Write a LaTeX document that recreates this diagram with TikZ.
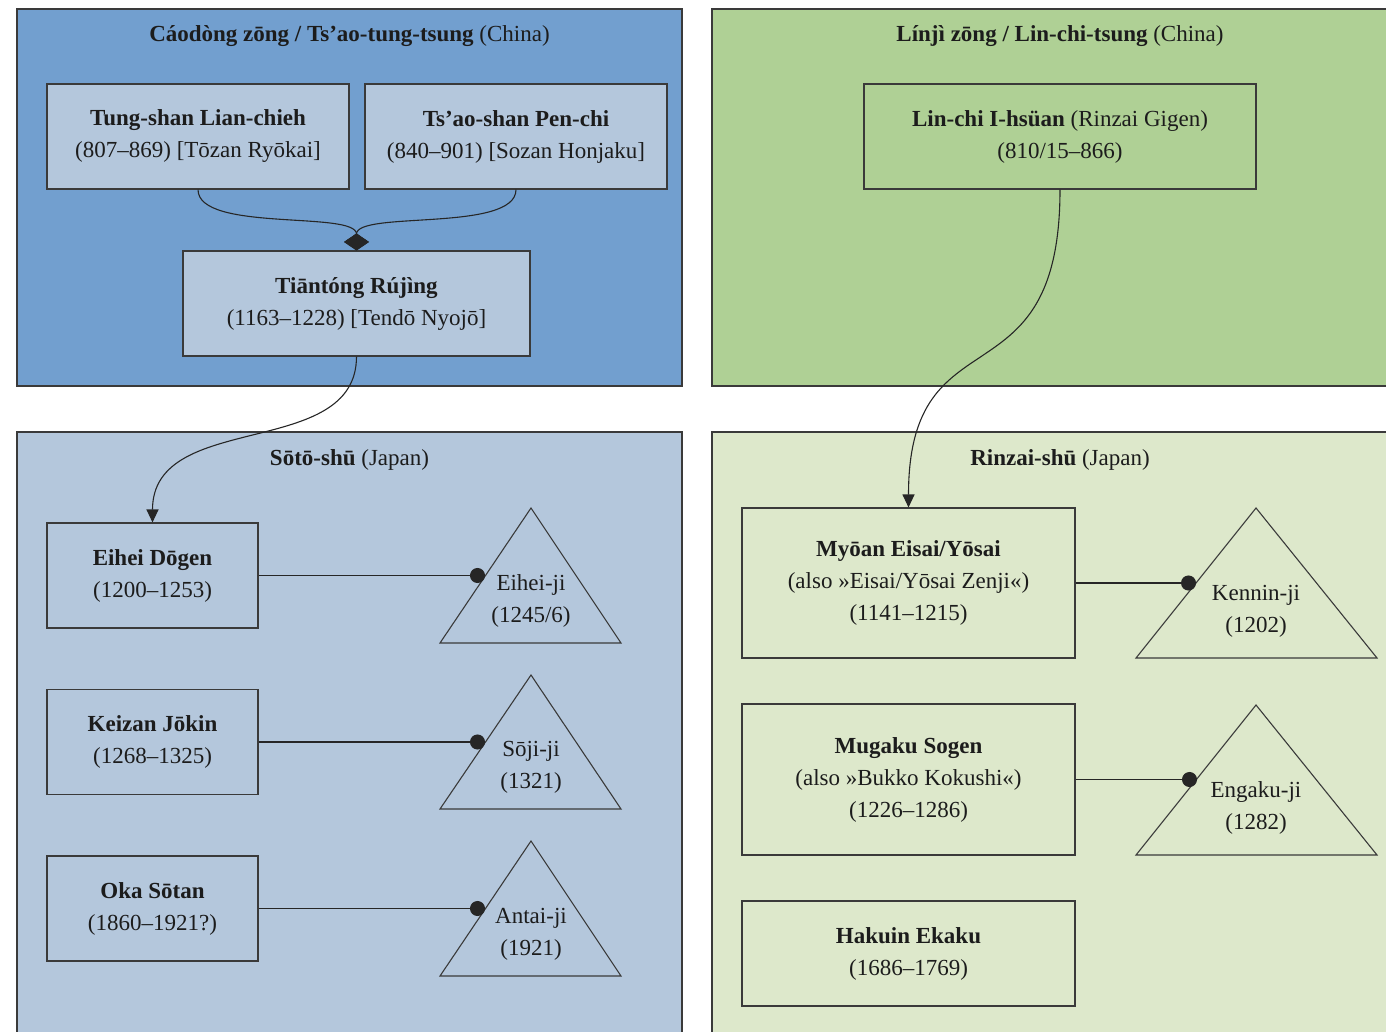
\documentclass[tikz,border=0pt]{standalone}
\usepackage{fontspec}
\setmainfont{Liberation Serif}
\usetikzlibrary{arrows.meta}
\definecolor{blueA}{HTML}{729FCF}
\definecolor{blueB}{HTML}{B4C7DC}
\definecolor{greenA}{HTML}{AFD095}
\definecolor{greenB}{HTML}{DDE8CB}
\definecolor{edgec}{HTML}{3A3A3A}
\definecolor{txt}{HTML}{1C1C1C}
\begin{document}
\begin{tikzpicture}[x=1pt,y=-1pt,
  panel/.style={draw=edgec,line width=1.1pt},
  person/.style={draw=edgec,line width=1.1pt,inner sep=0pt,align=center,text=txt,
    font=\fontsize{23}{32}\selectfont},
  ttl/.style={inner sep=0pt,text=txt,font=\fontsize{23}{32}\selectfont},
  temple/.style={draw=edgec,line width=1.1pt},
  ttext/.style={inner sep=0pt,align=center,text=txt,font=\fontsize{23}{32}\selectfont},
  conn/.style={draw=black!85,line width=1.1pt},
  dotline/.style={conn,-{Circle[length=15pt]}},
]
\useasboundingbox (0,0) rectangle (1386,1032);
% panels
\fill[white] (0,0) rectangle (1386,1032);
\draw[panel,fill=blueA] (17,9) rectangle (682,386);
\draw[panel,fill=greenA] (712,9) rectangle (1420,386);
\draw[panel,fill=blueB] (17,432) rectangle (682,1060);
\draw[panel,fill=greenB] (712,432) rectangle (1420,1060);
% titles
\node[ttl] (t1) at (349.5,36) {\textbf{Cáodòng zōng / Ts’ao-tung-tsung} (China)};
\node[ttl] (t2) at (1060,36) {\textbf{Línjì zōng / Lin-chi-tsung} (China)};
\node[ttl] (t3) at (349.5,460) {\textbf{Sōtō-shū} (Japan)};
\node[ttl] (t4) at (1060,460) {\textbf{Rinzai-shū} (Japan)};
% persons
\node[person,fill=blueB,minimum width=302pt,minimum height=105pt] (tung) at (198,136.5)
  {\textbf{Tung-shan Lian-chieh}\\(807–869) [Tōzan Ryōkai]};
\node[person,fill=blueB,minimum width=302pt,minimum height=105pt] (tsao) at (516,136.5)
  {\textbf{Ts’ao-shan Pen-chi}\\(840–901) [Sozan Honjaku]};
\node[person,fill=blueB,minimum width=347pt,minimum height=105pt] (tian) at (356.5,303.5)
  {\textbf{Tiāntóng Rújìng}\\(1163–1228) [Tendō Nyojō]};
\node[person,fill=greenA,minimum width=392pt,minimum height=105pt] (linchi) at (1060,136.5)
  {\textbf{Lin-chi I-hsüan} (Rinzai Gigen)\\(810/15–866)};
\node[person,fill=blueB,minimum width=211pt,minimum height=105pt] (dogen) at (152.5,575.5)
  {\textbf{Eihei Dōgen}\\(1200–1253)};
\node[person,fill=blueB,minimum width=211pt,minimum height=105pt] (keizan) at (152.5,742)
  {\textbf{Keizan Jōkin}\\(1268–1325)};
\node[person,fill=blueB,minimum width=211pt,minimum height=105pt] (oka) at (152.5,908.5)
  {\textbf{Oka Sōtan}\\(1860–1921?)};
\node[person,fill=greenB,minimum width=333pt,minimum height=150pt] (myoan) at (908.5,583)
  {\textbf{Myōan Eisai/Yōsai}\\(also »Eisai/Yōsai Zenji«)\\(1141–1215)};
\node[person,fill=greenB,minimum width=333pt,minimum height=151pt] (mugaku) at (908.5,779.5)
  {\textbf{Mugaku Sogen}\\(also »Bukko Kokushi«)\\(1226–1286)};
\node[person,fill=greenB,minimum width=333pt,minimum height=105pt] (hakuin) at (908.5,953.5)
  {\textbf{Hakuin Ekaku}\\(1686–1769)};
% temples
\draw[temple,fill=blueB] (531,508) -- (621,643) -- (440,643) -- cycle;
\node[ttext] (eiheiji) at (531,601) {Eihei-ji\\(1245/6)};
\coordinate (d1) at (485,575.5);
\draw[temple,fill=blueB] (531,675) -- (621,809) -- (440,809) -- cycle;
\node[ttext] (sojiji) at (531,767) {Sōji-ji\\(1321)};
\coordinate (d2) at (485,742);
\draw[temple,fill=blueB] (531,841) -- (621,976) -- (440,976) -- cycle;
\node[ttext] (antaiji) at (531,934) {Antai-ji\\(1921)};
\coordinate (d3) at (485,908.5);
\draw[temple,fill=greenB] (1256,508) -- (1377,658) -- (1136,658) -- cycle;
\node[ttext] (kenninji) at (1256,611.5) {Kennin-ji\\(1202)};
\coordinate (d4) at (1196,583);
\draw[temple,fill=greenB] (1256,705) -- (1377,855) -- (1136,855) -- cycle;
\node[ttext] (engakuji) at (1256,808) {Engaku-ji\\(1282)};
\coordinate (d5) at (1197,779.5);
% connectors
\draw[dotline] (dogen.east) -- (d1);
\draw[dotline] (keizan.east) -- (d2);
\draw[dotline] (oka.east) -- (d3);
\draw[dotline] (myoan.east) -- (d4);
\draw[dotline] (mugaku.east) -- (d5);
\draw[conn,-{Diamond[length=17pt,width=25pt]}] (tung.south) .. controls +(0,43) and +(0,-40) .. (tian.north);
\draw[conn,-{Diamond[length=17pt,width=25pt]}] (tsao.south) .. controls +(0,43) and +(0,-40) .. (tian.north);
\draw[conn,-{Triangle[length=13pt,width=12pt]}] (tian.south) .. controls +(0,104) and +(0,-113) .. (dogen.north);
\draw[conn,-{Triangle[length=13pt,width=12pt]}] (linchi.south) .. controls +(0,220) and +(0,-200) .. (myoan.north);
\end{tikzpicture}
\end{document}
